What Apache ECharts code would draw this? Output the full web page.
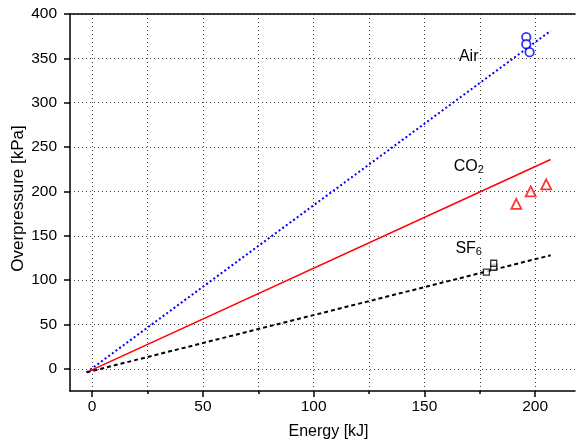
<!DOCTYPE html>
<html><head><meta charset="utf-8">
<script src="https://cdn.jsdelivr.net/npm/echarts@6/dist/echarts.min.js"></script>
<style>html,body{margin:0;padding:0;background:#fff}#c{width:576px;height:446px}</style>
</head><body><div id="c"></div>
<script>
// ---- data ----
var xMajorTicks = [0, 50, 100, 150, 200];
var xMinorTicks = [25, 75, 125, 175];
var yTicks = [0, 50, 100, 150, 200, 250, 300, 350, 400];
var fitX = [-2.5, 207];
var airFit = [-4, 381];
var co2Fit = [-4, 236];
var sf6Fit = [-4, 128];
var airX = [196, 196, 197.5];
var airY = [374, 366, 357];
var co2X = [191.5, 198, 205];
var co2Y = [186, 200, 208];
var sf6X = [178, 181.3, 181.3];
var sf6Y = [109, 114.5, 119];
var labelNames = ['Air', 'CO2', 'SF6'];
var labelX = [170, 170, 170];
var labelY = [352, 228, 136];

function pairs(xs, ys) { return xs.map(function (x, i) { return [x, ys[i]]; }); }

var FONT = '"Liberation Sans", Arial, sans-serif';
var gridLine = { show: true, lineStyle: { color: '#444', type: [1, 3], width: 1 } };

var chart = echarts.init(document.getElementById('c'), null, { renderer: 'canvas' });
chart.setOption({
  animation: false,
  backgroundColor: '#fff',
  grid: { left: 70, top: 14, right: 1, bottom: 55, containLabel: false, outerBoundsMode: 'none' },
  xAxis: [
    {
      type: 'value', min: -10, max: 218, position: 'bottom',
      name: 'Energy [kJ]', nameLocation: 'middle', nameGap: 33, nameMoveOverlap: false,
      nameTextStyle: { fontFamily: FONT, fontSize: 16, color: '#000', padding: [0, 0, 0, 12] },
      axisLine: { show: true, onZero: false, lineStyle: { color: '#000', width: 1.5 } },
      axisTick: { show: true, inside: false, length: 6, customValues: xMajorTicks, lineStyle: { color: '#000', width: 1.5 } },
      axisLabel: { customValues: xMajorTicks, fontFamily: FONT, fontSize: 15.5, color: '#000', margin: 8 },
      splitLine: gridLine
    },
    {
      type: 'value', min: -10, max: 218, position: 'bottom',
      axisLine: { show: false, onZero: false },
      axisTick: { show: true, inside: false, length: 3, customValues: xMinorTicks, lineStyle: { color: '#000', width: 1.5 } },
      axisLabel: { show: false, customValues: xMinorTicks },
      splitLine: gridLine
    },
    {
      type: 'value', min: -10, max: 218, position: 'top',
      axisLine: { show: true, onZero: false, lineStyle: { color: '#000', width: 1.5 } },
      axisTick: { show: false }, axisLabel: { show: false }, splitLine: { show: false }
    }
  ],
  yAxis: [
    {
      type: 'value', min: -25, max: 400,
      name: 'Overpressure [kPa]', nameLocation: 'middle', nameGap: 43, nameMoveOverlap: false,
      nameTextStyle: { fontFamily: FONT, fontSize: 17, color: '#000', padding: [0, 0, 0, 8] },
      axisLine: { show: true, onZero: false, lineStyle: { color: '#000', width: 1.5 } },
      axisTick: { show: true, inside: false, length: 6, customValues: yTicks, lineStyle: { color: '#000', width: 1.5 } },
      axisLabel: { customValues: yTicks, fontFamily: FONT, fontSize: 15.5, color: '#000', margin: 13 },
      splitLine: gridLine
    }
  ],
  series: [
    { type: 'line', data: pairs(fitX, airFit), symbol: 'none', lineStyle: { color: '#0000ff', width: 2, type: [2, 2.5] }, z: 3 },
    { type: 'line', data: pairs(fitX, co2Fit), symbol: 'none', lineStyle: { color: '#ff0000', width: 1.5, type: 'solid' }, z: 3 },
    { type: 'line', data: pairs(fitX, sf6Fit), symbol: 'none', lineStyle: { color: '#000', width: 2, type: [4, 3] }, z: 3 },
    { type: 'scatter', data: pairs(airX, airY), symbol: 'circle', symbolSize: 8.5,
      itemStyle: { color: '#fff', borderColor: '#0000ff', borderWidth: 1.8 }, z: 4 },
    { type: 'scatter', data: pairs(co2X, co2Y), symbol: 'triangle', symbolSize: 10,
      itemStyle: { color: '#fff', borderColor: '#ff0000', borderWidth: 1.8 }, z: 4 },
    { type: 'scatter', data: pairs(sf6X, sf6Y), symbol: 'rect', symbolSize: 6,
      itemStyle: { color: '#fff', borderColor: '#000', borderWidth: 1.3 }, z: 4 },
    { type: 'scatter', symbol: 'circle', symbolSize: 0, z: 5,
      itemStyle: { color: '#000', opacity: 1 },
      data: labelNames.map(function (n, i) { return { value: [labelX[i], labelY[i]], name: n }; }),
      label: {
        show: true, position: 'inside', color: '#000', opacity: 1, fontFamily: FONT, fontSize: 16,
        formatter: function (p) {
          var n = p.name;
          if (n === 'CO2') return '{a|CO}{s|2}';
          if (n === 'SF6') return '{a|SF}{s|6}';
          return '{a|' + n + '}';
        },
        rich: {
          a: { fontFamily: FONT, fontSize: 16, color: '#000', backgroundColor: '#fff', lineHeight: 18 },
          s: { fontFamily: FONT, fontSize: 11, color: '#000', verticalAlign: 'bottom', lineHeight: 18, padding: [5, 0, 0, 0], backgroundColor: '#fff' }
        }
      }
    }
  ]
});
</script></body></html>
